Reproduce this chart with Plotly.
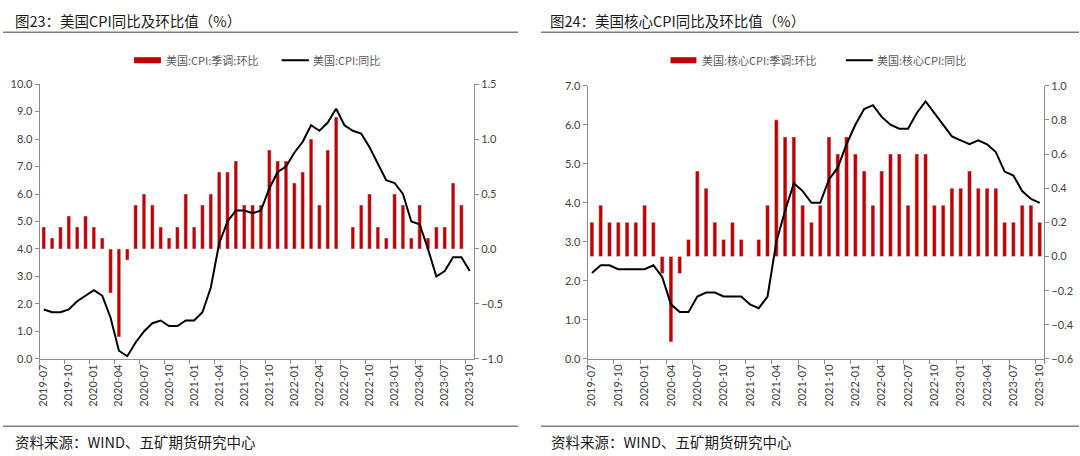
import pandas as pd
import plotly.graph_objects as go

# ---------------- data ----------------
months = list(pd.date_range("2019-07-01", "2023-10-01", freq="MS").strftime("%Y-%m"))
tick_months = months[::3]

# 美国 CPI 季调环比 (%)
cpi_mom = [0.2, 0.1, 0.2, 0.3, 0.2, 0.3,
           0.2, 0.1, -0.4, -0.8, -0.1, 0.4, 0.5, 0.4, 0.2, 0.1, 0.2, 0.5,
           0.2, 0.4, 0.5, 0.7, 0.7, 0.8, 0.4, 0.4, 0.4, 0.9, 0.8, 0.8,
           0.6, 0.7, 1.0, 0.4, 0.9, 1.2, 0.0, 0.2, 0.4, 0.5, 0.2, 0.1,
           0.5, 0.4, 0.1, 0.4, 0.1, 0.2, 0.2, 0.6, 0.4, 0.0]
# 美国 CPI 同比 (%)
cpi_yoy = [1.8, 1.7, 1.7, 1.8, 2.1, 2.3,
           2.5, 2.3, 1.5, 0.3, 0.1, 0.6, 1.0, 1.3, 1.4, 1.2, 1.2, 1.4,
           1.4, 1.7, 2.6, 4.2, 5.0, 5.4, 5.4, 5.3, 5.4, 6.2, 6.8, 7.0,
           7.5, 7.9, 8.5, 8.3, 8.6, 9.1, 8.5, 8.3, 8.2, 7.7, 7.1, 6.5,
           6.4, 6.0, 5.0, 4.9, 4.0, 3.0, 3.2, 3.7, 3.7, 3.2]
# 美国 核心CPI 季调环比 (%)
core_mom = [0.2, 0.3, 0.2, 0.2, 0.2, 0.2,
            0.3, 0.2, -0.1, -0.5, -0.1, 0.1, 0.5, 0.4, 0.2, 0.1, 0.2, 0.1,
            0.0, 0.1, 0.3, 0.8, 0.7, 0.7, 0.3, 0.2, 0.3, 0.7, 0.6, 0.7,
            0.6, 0.5, 0.3, 0.5, 0.6, 0.6, 0.3, 0.6, 0.6, 0.3, 0.3, 0.4,
            0.4, 0.5, 0.4, 0.4, 0.4, 0.2, 0.2, 0.3, 0.3, 0.2]
# 美国 核心CPI 同比 (%)
core_yoy = [2.2, 2.4, 2.4, 2.3, 2.3, 2.3,
            2.3, 2.4, 2.1, 1.4, 1.2, 1.2, 1.6, 1.7, 1.7, 1.6, 1.6, 1.6,
            1.4, 1.3, 1.6, 3.0, 3.8, 4.5, 4.3, 4.0, 4.0, 4.6, 4.9, 5.5,
            6.0, 6.4, 6.5, 6.2, 6.0, 5.9, 5.9, 6.3, 6.6, 6.3, 6.0, 5.7,
            5.6, 5.5, 5.6, 5.5, 5.3, 4.8, 4.7, 4.3, 4.1, 4.0]

titles = ["图23：美国CPI同比及环比值（%）", "图24：美国核心CPI同比及环比值（%）"]
legend_names = [["美国:CPI:季调:环比", "美国:CPI:同比"],
                ["美国:核心CPI:季调:环比", "美国:核心CPI:同比"]]
source_text = "资料来源：WIND、五矿期货研究中心"

# ---------------- styling ----------------
W, H = 1080, 456
RED = "#C00000"
AX = "#8c8c8c"
TICKF = dict(family="Lato, Open Sans, sans-serif", size=11, color="#404040")
CJK = "Noto Sans CJK SC"

def px_x(v):
    return v / W

def px_y(v):
    return 1 - v / H

fig = go.Figure()

# left panel traces
fig.add_trace(go.Bar(x=months, y=cpi_mom, name=legend_names[0][0], marker_color=RED,
                     width=0.44, xaxis="x", yaxis="y", showlegend=False))
fig.add_trace(go.Scatter(x=months, y=cpi_yoy, name=legend_names[0][1], mode="lines",
                         line=dict(color="black", width=2), xaxis="x", yaxis="y2", showlegend=False))
# right panel traces
fig.add_trace(go.Bar(x=months, y=core_mom, name=legend_names[1][0], marker_color=RED,
                     width=0.44, xaxis="x2", yaxis="y3", showlegend=False))
fig.add_trace(go.Scatter(x=months, y=core_yoy, name=legend_names[1][1], mode="lines",
                         line=dict(color="black", width=2), xaxis="x2", yaxis="y4", showlegend=False))

common_axis = dict(showline=True, linecolor=AX, linewidth=1, ticks="outside", ticklen=4,
                   tickcolor=AX, tickwidth=1, showgrid=False, zeroline=False, tickfont=TICKF)

xcommon = dict(common_axis, type="category", tickmode="array", tickvals=tick_months,
               ticktext=tick_months, tickangle=-90, tickson="boundaries",
               range=[-0.5, len(months) - 0.5])

dom1 = [px_x(36.7), px_x(472.7)]
dom2 = [px_x(586.7), px_x(1045)]
ydom1 = [px_y(362.3), px_y(79.3)]
ydom2 = [px_y(362.3), px_y(81)]

fig.update_layout(
    width=W, height=H,
    margin=dict(l=0, r=0, t=0, b=0),
    paper_bgcolor="white", plot_bgcolor="white",
    xaxis=dict(xcommon, domain=dom1, anchor="y"),
    yaxis=dict(common_axis, domain=ydom1, anchor="x", side="right",
               range=[-1.0, 1.5], dtick=0.5, tick0=0, tickformat=".1f"),
    yaxis2=dict(common_axis, overlaying="y", anchor="x", side="left",
                range=[0, 10], dtick=1, tick0=0, tickformat=".1f"),
    xaxis2=dict(xcommon, domain=dom2, anchor="y3"),
    yaxis3=dict(common_axis, domain=ydom2, anchor="x2", side="right",
                range=[-0.6, 1.0], dtick=0.2, tick0=0, tickformat=".1f"),
    yaxis4=dict(common_axis, overlaying="y3", anchor="x2", side="left",
                range=[0, 7], dtick=1, tick0=0, tickformat=".1f"),
    bargap=0.5,
    showlegend=False,
)

shapes = []
annotations = []
panels = [
    dict(x0=0, x1=517, tx=10, sx=10, leg=(131.5, 158.5, 162, 279.6, 307, 309)),
    dict(x0=540, x1=1080, tx=547, sx=548.5, leg=(670, 696, 699.5, 846, 873, 875)),
]
for i, p in enumerate(panels):
    # title rule and footer rule
    for yy in (26, 431.6):
        shapes.append(dict(type="line", xref="paper", yref="paper",
                           x0=px_x(p["x0"]), x1=px_x(p["x1"]), y0=px_y(yy), y1=px_y(yy),
                           line=dict(color="#7f7f7f", width=1.5)))
    annotations.append(dict(text=titles[i], xref="paper", yref="paper", x=px_x(p["tx"]),
                            y=px_y(14), xanchor="left", yanchor="middle", showarrow=False,
                            font=dict(family=CJK, size=14.5, color="#1a1a1a")))
    annotations.append(dict(text=source_text, xref="paper", yref="paper", x=px_x(p["sx"]),
                            y=px_y(447.5), xanchor="left", yanchor="middle", showarrow=False,
                            font=dict(family=CJK, size=14.5, color="#1a1a1a")))
    rx0, rx1, tx1, lx0, lx1, tx2 = p["leg"]
    ly = 54.8
    shapes.append(dict(type="rect", xref="paper", yref="paper", x0=px_x(rx0), x1=px_x(rx1),
                       y0=px_y(ly + 3.1), y1=px_y(ly - 3.1), fillcolor=RED, line=dict(width=0)))
    shapes.append(dict(type="line", xref="paper", yref="paper", x0=px_x(lx0), x1=px_x(lx1),
                       y0=px_y(ly), y1=px_y(ly), line=dict(color="black", width=2)))
    for tx, name in ((tx1, legend_names[i][0]), (tx2, legend_names[i][1])):
        annotations.append(dict(text=name, xref="paper", yref="paper", x=px_x(tx), y=px_y(ly),
                                xanchor="left", yanchor="middle", showarrow=False,
                                font=dict(family=CJK, size=11, color="#595959")))

fig.update_layout(shapes=shapes, annotations=annotations)
fig.write_html("out.html",
               config={"displayModeBar": False},
               post_script="document.body.style.margin='0';document.body.style.overflow='hidden';")
